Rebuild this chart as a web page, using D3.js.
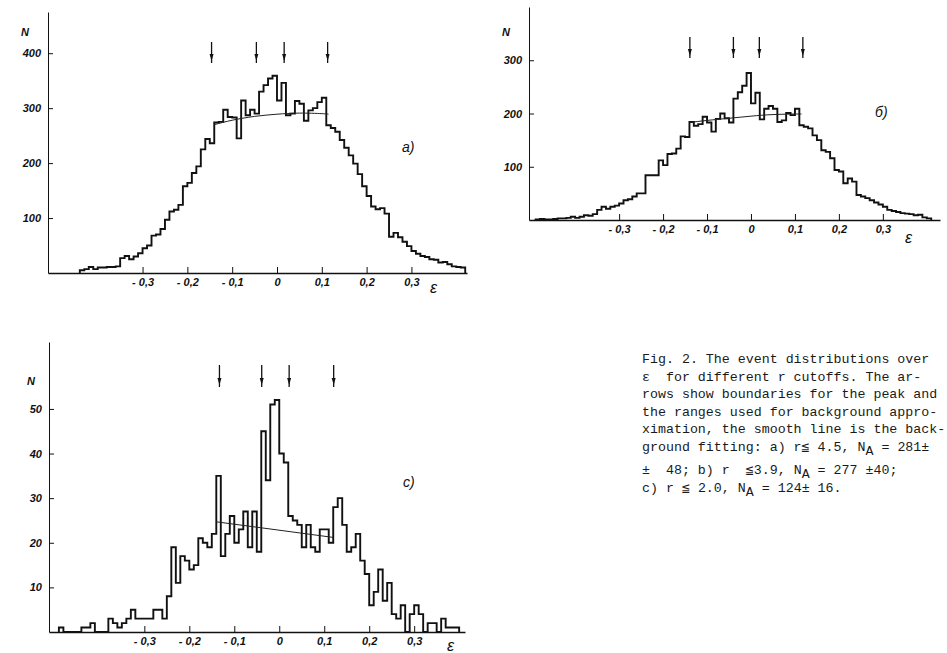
<!DOCTYPE html>
<html>
<head>
<meta charset="utf-8">
<script src="https://cdn.jsdelivr.net/npm/d3@7"></script>
<style>
  body { margin: 0; background: #fff; }
  svg { display: block; }
  .tick text { font-family: "Liberation Sans", Arial, sans-serif; font-style: italic; font-weight: bold; font-size: 11px; fill: #111; }
  .tick line, .domain { stroke: #111; }
  .lbl { font-family: "Liberation Sans", Arial, sans-serif; font-style: italic; fill: #111; }
  .cap { font-family: "Liberation Mono", "DejaVu Sans Mono", monospace; font-size: 13.3px; fill: #1a1a1a; white-space: pre; }
</style>
</head>
<body>
<svg id="root" width="947" height="653"></svg>
<script>
// bin width in epsilon
const binWidth = 0.01;

// a) r <= 4.5
const aStart = -0.44;
const aCounts = [5, 7, 11, 7, 10, 10, 11, 11, 12, 27, 31, 25, 30, 36,
  45, 50, 68, 70, 80, 97, 112, 115, 124, 158, 164, 182, 194, 225, 244, 236,
  274, 275, 297, 284, 283, 245, 314, 287, 297, 290, 330, 342, 354, 359,
  314, 346, 287, 290, 313, 308, 277, 296, 300, 311, 319, 269,
  264, 257, 242, 228, 214, 199, 180, 158, 140, 121, 116, 118, 108,
  66, 73, 65, 57, 49, 40, 35, 31, 29, 25, 24, 19, 20, 16, 12, 11, 10];
const aFitEps = [-0.14, -0.1, -0.05, 0, 0.05, 0.1, 0.115];
const aFitN = [270, 278, 285, 289, 291, 290, 289];
const aArrows = [-0.146, -0.046, 0.016, 0.113];
const aYTicks = [100, 200, 300, 400];

// b) r <= 3.9
const bStart = -0.49;
const bCounts = [1, 2, 1, 1, 2, 3, 3, 4, 6, 4, 6, 9, 8, 11,
  19, 25, 21, 25, 27, 31, 37, 39, 44, 50, 50,
  84, 84, 84, 112, 103, 124, 125, 134, 157, 156,
  184, 177, 180, 194, 183, 166, 190, 200, 191, 183, 228, 240, 252, 276,
  219, 239, 189, 209, 214, 209, 184, 187, 201, 197, 209,
  178, 175, 172, 159, 150, 131, 128, 116, 94, 91, 69, 78, 72,
  47, 44, 41, 37, 33, 29, 25, 19, 17, 15, 13, 12, 11, 9, 10, 5, 3];
const bFitEps = [-0.14, -0.1, -0.05, 0, 0.05, 0.1, 0.115];
const bFitN = [183, 187, 191, 195, 198, 199, 199];
const bArrows = [-0.139, -0.040, 0.019, 0.118];
const bYTicks = [100, 200, 300];

// c) r <= 2.0
const cStart = -0.49;
const cCounts = [1, 0, 0, 0, 0, 1, 1, 2, 0, 0, 0, 3, 2, 1, 2, 3, 5, 3, 3, 3,
  3, 5, 5, 3, 8, 19, 11, 17, 16, 14, 15, 21, 20, 19, 22,
  35, 17, 22, 26, 20, 23, 27, 19, 27, 18, 45, 34, 51, 52,
  40, 38, 26, 25, 24, 19, 24, 19, 18, 23, 23, 20, 28, 30, 24,
  18, 19, 22, 16, 13, 6, 9, 14, 7, 11, 4, 3, 6, 0, 4, 6, 4, 0, 2, 2, 0, 3, 1, 1, 1];
const cFitEps = [-0.14, 0.12];
const cFitN = [24.7, 21.2];
const cArrows = [-0.133, -0.039, 0.022, 0.121];
const cYTicks = [10, 20, 30, 40, 50];

const xTicks = [-0.3, -0.2, -0.1, 0, 0.1, 0.2, 0.3];

const panelNames = ["a)", "б)", "c)"];

const captionLines = [
  [["Fig. 2. The event distributions over"]],
  [["ε  for different r cutoffs. The ar-"]],
  [["rows show boundaries for the peak and"]],
  [["the ranges used for background appro-"]],
  [["ximation, the smooth line is the back-"]],
  [["ground fitting: a) r≦ 4.5, N"], ["A", 1], [" = 281±"]],
  [["±  48; b) r  ≦3.9, N"], ["A", 1], [" = 277 ±40;"]],
  [["c) r ≦ 2.0, N"], ["A", 1], [" = 124± 16."]]
];

(function () {
  let svg = d3.select("#root");

  svg.append("rect").attr("width", 947).attr("height", 653).attr("fill", "#fff");

  let fmt = d => d === 0 ? "0" : d.toFixed(1).replace(".", ",").replace("-", "- ");

  let panels = [
    { counts: aCounts, start: aStart, fitE: aFitEps, fitN: aFitN, arrows: aArrows, yTicks: aYTicks,
      xDomain: [-0.511, 0.424], xRange: [48, 467], yDomain: [0, 475], yRange: [273, 12],
      arrowY: [42, 63], name: panelNames[0], nameAt: [402, 152], nAt: [21, 36], epsAt: [430, 293] },
    { counts: bCounts, start: bStart, fitE: bFitEps, fitN: bFitN, arrows: bArrows, yTicks: bYTicks,
      xDomain: [-0.505, 0.430], xRange: [529, 940], yDomain: [0, 400], yRange: [220, 7],
      arrowY: [37, 58], name: panelNames[1], nameAt: [875, 117], nAt: [502, 36], epsAt: [905, 243] },
    { counts: cCounts, start: cStart, fitE: cFitEps, fitN: cFitN, arrows: cArrows, yTicks: cYTicks,
      xDomain: [-0.512, 0.413], xRange: [49, 465], yDomain: [0, 65], yRange: [632, 342],
      arrowY: [365, 387], name: panelNames[2], nameAt: [403, 487], nAt: [27, 385], epsAt: [447, 651] }
  ];

  panels.forEach(drawPanel);

  function drawPanel(p) {
    let x = d3.scaleLinear().domain(p.xDomain).range(p.xRange);
    let y = d3.scaleLinear().domain(p.yDomain).range(p.yRange);
    let g = svg.append("g");

    let xAxis = g.append("g")
      .attr("transform", `translate(0,${p.yRange[0]})`)
      .call(d3.axisBottom(x).tickValues(xTicks).tickSize(-6).tickSizeOuter(0).tickPadding(5).tickFormat(fmt));
    xAxis.select(".domain").attr("stroke-width", 1.3);

    let yAxis = g.append("g")
      .attr("transform", `translate(${p.xRange[0]},0)`)
      .call(d3.axisLeft(y).tickValues(p.yTicks).tickSize(-5).tickSizeOuter(0).tickPadding(7));
    yAxis.select(".domain").attr("stroke-width", 1);

    // histogram as steps
    let pts = p.counts.map((c, i) => [p.start + i * binWidth, c]);
    let end = p.start + p.counts.length * binWidth;
    pts.unshift([p.start, 0]);
    pts.push([end, p.counts[p.counts.length - 1]]);
    pts.push([end, 0]);

    let step = d3.line()
      .x(d => x(d[0]))
      .y(d => y(d[1]))
      .curve(d3.curveStepAfter);

    g.append("path")
      .attr("d", step(pts))
      .attr("fill", "none")
      .attr("stroke", "#111")
      .attr("stroke-width", 1.9)
      .attr("stroke-linejoin", "miter");

    // background fit
    let fit = d3.line()
      .x(d => x(d[0]))
      .y(d => y(d[1]))
      .curve(p.fitE.length > 2 ? d3.curveNatural : d3.curveLinear);

    g.append("path")
      .attr("d", fit(p.fitE.map((e, i) => [e, p.fitN[i]])))
      .attr("fill", "none")
      .attr("stroke", "#222")
      .attr("stroke-width", 1);

    // arrows
    p.arrows.forEach(e => {
      let ax = x(e);
      g.append("line")
        .attr("x1", ax).attr("x2", ax)
        .attr("y1", p.arrowY[0]).attr("y2", p.arrowY[1])
        .attr("stroke", "#111").attr("stroke-width", 1.3);
      g.append("path")
        .attr("d", `M${ax - 2},${p.arrowY[1] - 9}L${ax + 2},${p.arrowY[1] - 9}L${ax},${p.arrowY[1] - 2}Z`)
        .attr("fill", "#111");
    });

    g.append("text").attr("class", "lbl")
      .attr("x", p.nAt[0]).attr("y", p.nAt[1])
      .style("font-size", "11px").style("font-weight", "bold")
      .text("N");

    g.append("text").attr("class", "lbl")
      .attr("x", p.epsAt[0]).attr("y", p.epsAt[1])
      .style("font-size", "16px")
      .text("ε");

    g.append("text").attr("class", "lbl")
      .attr("x", p.nameAt[0]).attr("y", p.nameAt[1])
      .style("font-size", "14px")
      .text(p.name);
  }

  // caption
  let baselines = [363, 381, 398, 416, 433, 451, 474, 492];
  captionLines.forEach((segs, i) => {
    let t = svg.append("text").attr("class", "cap")
      .attr("x", 642).attr("y", baselines[i]);
    segs.forEach(s => {
      let ts = t.append("tspan").text(s[0]);
      if (s[1]) {
        ts.attr("dy", 4);
      } else if (t.selectAll("tspan").size() > 1) {
        ts.attr("dy", -4);
      }
    });
  });
})();
</script>
</body>
</html>
